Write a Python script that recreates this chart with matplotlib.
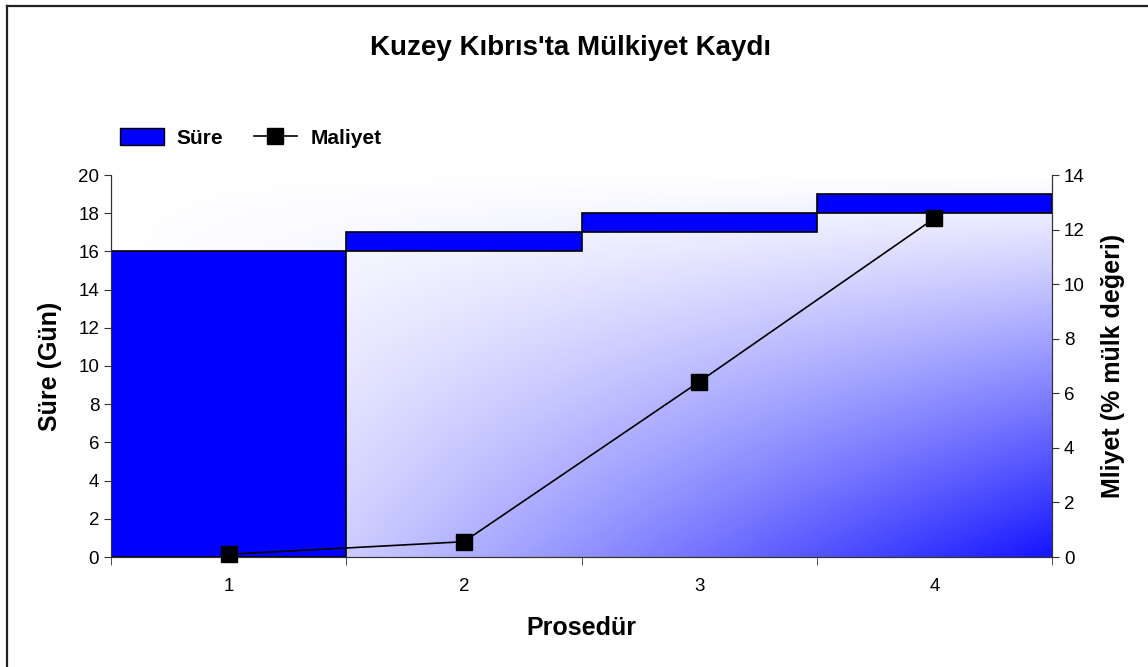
import matplotlib.pyplot as plt
import numpy as np
from matplotlib.lines import Line2D
from matplotlib.patches import Patch

plt.rcParams["font.family"] = "Liberation Sans"

# data
procedures = ["1", "2", "3", "4"]
duration = [16, 1, 1, 1]           # days, per procedure (stacked as waterfall)
cost = [0.1, 0.56, 6.42, 12.41]     # % of property value, cumulative

W, H = 1148, 667
fig = plt.figure(figsize=(W / 100, H / 100), dpi=100)
ax = fig.add_axes([111 / W, 1 - 557 / H, (1052 - 111) / W, (557 - 175) / H])
ax2 = ax.twinx()

x = np.arange(len(procedures))
bottoms = np.concatenate([[0], np.cumsum(duration)[:-1]])

# background gradient (white top-left -> blue bottom-right)
u = np.linspace(0, 1, 400)[None, :]
v = np.linspace(0, 1, 300)[:, None]
t = (u * v) ** 1.1
img = np.ones((300, 400, 3))
img[..., 0] = 1 - 0.92 * t
img[..., 1] = 1 - 0.92 * t
ax.imshow(img, extent=[-0.5, 3.5, 0, 20], origin="upper", aspect="auto",
          zorder=0, interpolation="bilinear")

ax.bar(x, duration, bottom=bottoms, width=1.0, color="#0000ff",
       edgecolor="black", linewidth=1.2, zorder=2)
ax.set_xlim(-0.5, 3.5)
ax.set_ylim(0, 20)
ax.set_yticks(range(0, 21, 2))
ax.set_xticks(x)
ax.set_xticklabels(procedures)
ax.set_xticks(np.arange(-0.5, 4, 1), minor=True)
ax.tick_params(axis="x", which="major", length=0, pad=15, labelsize=13.5)
ax.tick_params(axis="x", which="minor", length=6, color="#333333")
ax.tick_params(axis="y", length=5, labelsize=13.5, color="#333333")

ax2.plot(x, cost, color="black", linewidth=1.2, marker="s", markersize=11,
         clip_on=False, zorder=5)
ax2.set_ylim(0, 14)
ax2.set_yticks(range(0, 15, 2))
ax2.tick_params(axis="y", length=5, labelsize=13.5, color="#333333")

for a in (ax, ax2):
    a.spines["top"].set_visible(False)
    for s in ("left", "right", "bottom"):
        a.spines[s].set_color("#333333")

ax.set_ylabel("Süre (Gün)", fontsize=18, fontweight="bold")
ax2.set_ylabel("Mliyet (% mülk değeri)", fontsize=18, fontweight="bold")
ax.set_xlabel("Prosedür", fontsize=18, fontweight="bold")
ax.yaxis.set_label_coords((50 - 111) / 941, 0.5)
ax2.yaxis.set_label_coords((1113 - 111) / 941, 0.5)
ax.xaxis.set_label_coords((581 - 111) / 941, (557 - 628) / 382)
ax.xaxis.label.set_va("center")
ax.yaxis.label.set_va("center")
ax2.yaxis.label.set_va("center")

fig.text(571 / W, 1 - 48 / H, "Kuzey Kıbrıs'ta Mülkiyet Kaydı", ha="center",
         va="center", fontsize=20, fontweight="bold")

handles = [Patch(facecolor="#0000ff", edgecolor="black", linewidth=1),
           Line2D([], [], color="black", marker="s", markersize=11, linewidth=1.2)]
fig.legend(handles, ["Süre", "Maliyet"], loc="center left",
           bbox_to_anchor=(120 / W, 1 - 138 / H), ncol=2, frameon=False,
           prop={"weight": "bold", "size": 15}, handlelength=2.1,
           handleheight=0.9, columnspacing=1.45, handletextpad=0.62,
           borderpad=0, borderaxespad=0)

# figure border (left and top edges visible)
fig.add_artist(Line2D([7 / W, 7 / W], [0, 1 - 6 / H], color="#222222",
                      linewidth=1.6, transform=fig.transFigure))
fig.add_artist(Line2D([7 / W, 1], [1 - 6 / H, 1 - 6 / H], color="#222222",
                      linewidth=1.6, transform=fig.transFigure))

fig.savefig("out.png", dpi=100)
